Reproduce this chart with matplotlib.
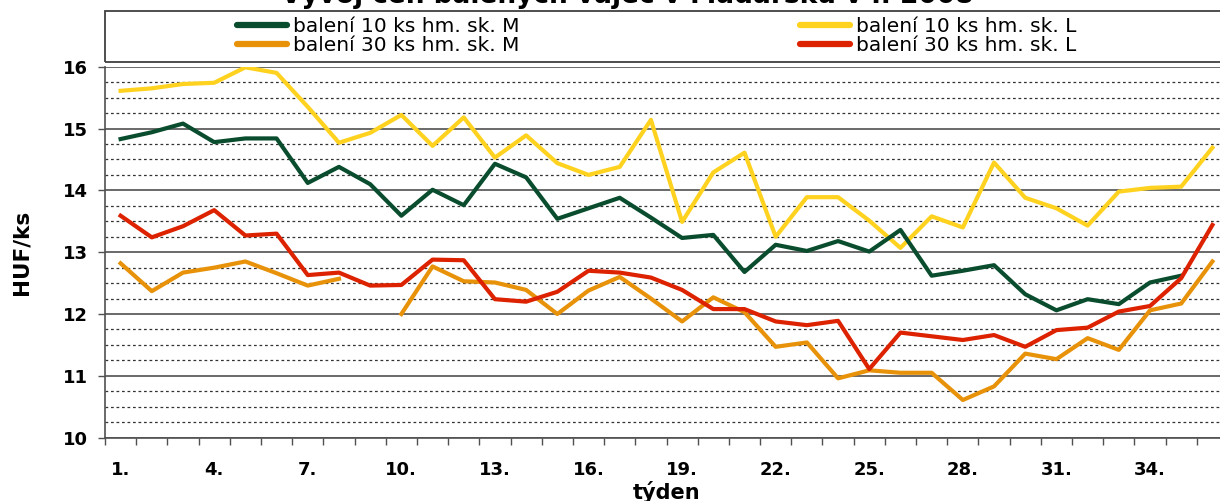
import numpy as np
import matplotlib
matplotlib.use('Agg')
import matplotlib.pyplot as plt
from matplotlib.patches import Rectangle
from matplotlib.ticker import MultipleLocator, FixedLocator

# week numbers and prices (HUF/ks)
weeks = np.arange(1, 37)
week_labels = ['1.', '4.', '7.', '10.', '13.', '16.', '19.', '22.', '25.', '28.', '31.', '34.']
label_weeks = [1, 4, 7, 10, 13, 16, 19, 22, 25, 28, 31, 34]

nan = np.nan
m10 = [14.83, 14.94, 15.08, 14.78, 14.84, 14.84, 14.12, 14.38, 14.10, 13.59,
       14.01, 13.76, 14.43, 14.21, 13.54, 13.71, 13.88, 13.56, 13.23, 13.28,
       12.68, 13.12, 13.02, 13.18, 13.01, 13.36, 12.62, 12.70, 12.79, 12.32,
       12.06, 12.24, 12.16, 12.51, 12.62, nan]
l10 = [15.61, 15.65, 15.72, 15.74, 15.99, 15.90, 15.35, 14.77, 14.93, 15.22,
       14.72, 15.18, 14.53, 14.89, 14.44, 14.25, 14.38, 15.14, 13.49, 14.29,
       14.61, 13.25, 13.89, 13.89, 13.51, 13.07, 13.58, 13.40, 14.45, 13.88,
       13.71, 13.43, 13.98, 14.04, 14.06, 14.69]
m30 = [12.82, 12.37, 12.67, 12.75, 12.85, 12.66, 12.46, 12.57, nan, 12.00,
       12.77, 12.53, 12.51, 12.39, 12.00, 12.38, 12.60, 12.25, 11.88, 12.27,
       12.03, 11.47, 11.54, 10.96, 11.09, 11.05, 11.05, 10.61, 10.83, 11.36,
       11.27, 11.61, 11.42, 12.06, 12.17, 12.85]
l30 = [13.59, 13.24, 13.42, 13.68, 13.27, 13.30, 12.63, 12.67, 12.46, 12.47,
       12.88, 12.87, 12.24, 12.20, 12.36, 12.70, 12.67, 12.59, 12.39, 12.08,
       12.08, 11.88, 11.82, 11.89, 11.11, 11.70, 11.64, 11.58, 11.66, 11.47,
       11.74, 11.78, 12.04, 12.13, 12.58, 13.44]

plt.rcParams['font.family'] = 'DejaVu Sans'

W, H = 1220, 501
fig = plt.figure(figsize=(W / 100, H / 100), dpi=100)
# plot area runs a bit past the right edge (cropped like the original)
ax = fig.add_axes([105 / W, 1 - 437.7 / H, (1228 - 105) / W, (437.7 - 66.7) / H])

ln_l10, = ax.plot(weeks, l10, color='#ffd21f', lw=3, label='balení 10 ks hm. sk. L', zorder=3)
ln_m10, = ax.plot(weeks, m10, color='#0a4d2e', lw=3, label='balení 10 ks hm. sk. M', zorder=3)
ln_m30, = ax.plot(weeks, m30, color='#e8920a', lw=3, label='balení 30 ks hm. sk. M', zorder=3)
ln_l30, = ax.plot(weeks, l30, color='#dd2200', lw=3, label='balení 30 ks hm. sk. L', zorder=3)

ax.set_xlim(0.5, 36.5)
ax.set_ylim(10, 16)

# y axis: solid lines at integers, dashed every 0.25
ax.yaxis.set_major_locator(MultipleLocator(1))
ax.yaxis.set_minor_locator(MultipleLocator(0.25))
ax.grid(which='major', axis='y', color='#505050', lw=1.2, zorder=1)
ax.grid(which='minor', axis='y', color='#333333', lw=0.9, ls=(0, (2.2, 2.2)), zorder=1)
ax.tick_params(axis='y', which='major', length=5, width=1, pad=7, labelsize=13, color='#505050')
ax.tick_params(axis='y', which='minor', length=0)

# x axis: tick marks between categories, labels every 3rd week
ax.xaxis.set_major_locator(FixedLocator(np.arange(0.5, 37, 1)))
ax.xaxis.set_major_formatter(plt.NullFormatter())
ax.xaxis.set_minor_locator(FixedLocator(label_weeks))
ax.set_xticklabels(week_labels, minor=True)
ax.tick_params(axis='x', which='major', length=5, width=1, color='#505050')
ax.tick_params(axis='x', which='minor', length=0, pad=17, labelsize=13)

for lbl in ax.get_xticklabels(minor=True) + ax.get_yticklabels():
    lbl.set_fontweight('bold')

for s in ['top', 'right']:
    ax.spines[s].set_visible(False)
for s in ['left', 'bottom']:
    ax.spines[s].set_color('#505050')
    ax.spines[s].set_linewidth(1.2)

ax.set_xlabel('týden', fontsize=15, weight='bold', labelpad=1)
ax.set_ylabel('HUF/ks', fontsize=15.5, weight='bold', labelpad=23)

# title (top cut off like the original)
fig.text(627 / W, 1 - 3 / H, 'Vývoj cen balených vajec v Maďarsku v r. 2008',
         ha='center', va='baseline', fontsize=19, weight='bold')

# legend box
fig.patches.append(Rectangle((105 / W, 1 - 62 / H), 1.0, 51 / H, transform=fig.transFigure,
                             fill=False, edgecolor='#404040', lw=1.3))
leg = fig.legend(handles=[ln_m10, ln_m30, ln_l10, ln_l30], ncol=2, frameon=False,
                 loc='upper left', bbox_to_anchor=(237 / W, 1 - 17 / H), borderpad=0,
                 borderaxespad=0, fontsize=14.5, handlelength=2.5, handletextpad=0.3,
                 columnspacing=13.9, labelspacing=0.0)
for h in leg.legend_handles:
    h.set_linewidth(4.5)
    h.set_solid_capstyle('round')

fig.savefig('out.png', dpi=100)
